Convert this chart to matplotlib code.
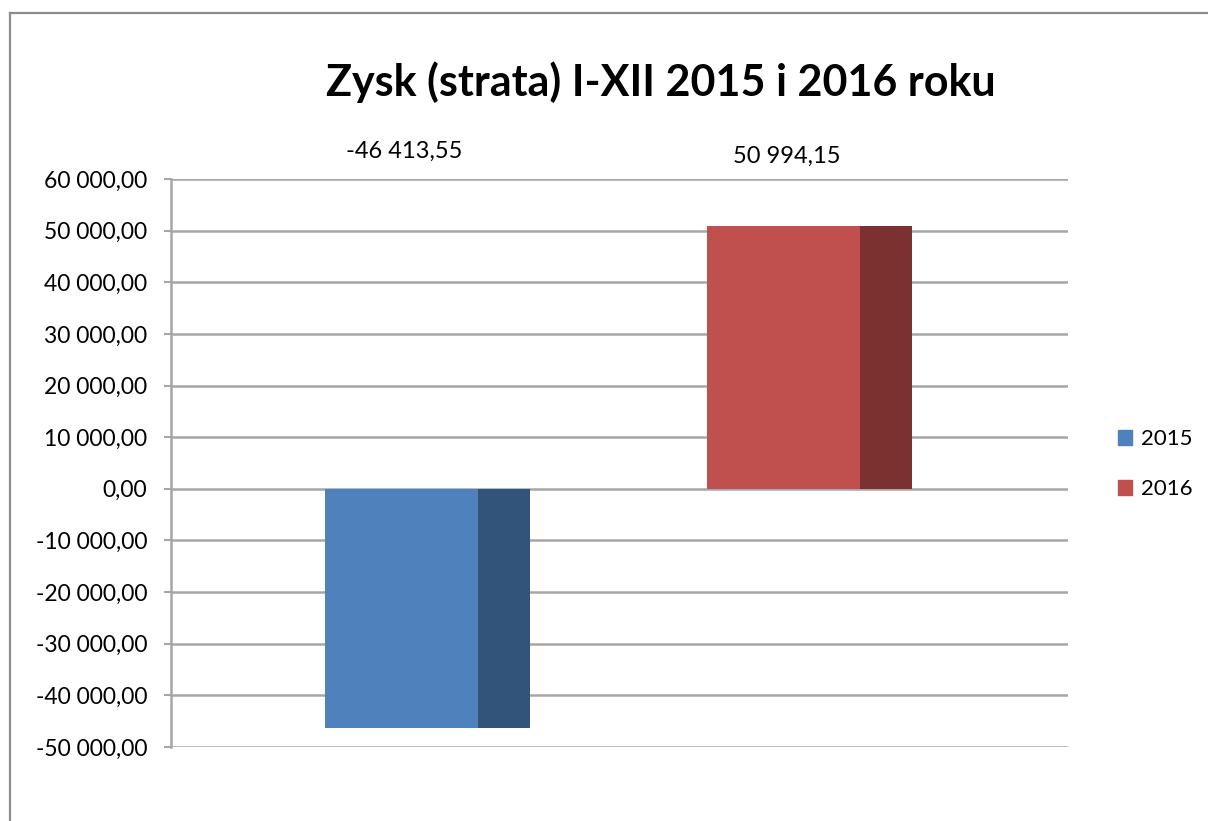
import matplotlib
matplotlib.use("Agg")
import matplotlib.pyplot as plt
from matplotlib.lines import Line2D
from matplotlib.patches import Patch

years = ["2015", "2016"]
values = [-46413.55, 50994.15]
label_texts = ["-46 413,55", "50 994,15"]
front_colors = ["#4F81BD", "#C0504D"]
side_colors = ["#32537A", "#7C3131"]
yticks = list(range(-50000, 60001, 10000))
title = "Zysk (strata) I-XII 2015 i 2016 roku"

plt.rcParams['font.family'] = ['Lato', 'DejaVu Sans']

fig = plt.figure(figsize=(12.08, 8.21), dpi=100)
ax = fig.add_axes([171/1208, 1-747/821, (1068-171)/1208, (747-179)/821])

positions = [0, 1]
front_w = 0.40
side_w = 0.136
for i, (p, v) in enumerate(zip(positions, values)):
    ax.bar(p - 0.268, v, width=front_w, align='edge', color=front_colors[i], zorder=3, linewidth=0)
    ax.bar(p + 0.132, v, width=side_w, align='edge', color=side_colors[i], zorder=3, linewidth=0)

ax.set_xlim(-0.671, 1.677)
ax.set_ylim(-50000, 60000)
ax.set_yticks(yticks)

def fmt(v):
    s = f"{abs(v):,.2f}".replace(",", " ").replace(".", ",")
    return ("-" if v < 0 else "") + s

ax.set_yticklabels([fmt(v) for v in yticks], fontsize=16.5)
ax.yaxis.grid(True, color="#A6A6A6", linewidth=1.8, zorder=0)
ax.set_axisbelow(True)
ax.set_xticks([])
for s in ["top", "right", "bottom"]:
    ax.spines[s].set_visible(False)
ax.spines["left"].set_color("#A6A6A6")
ax.spines["left"].set_linewidth(1.8)
ax.tick_params(axis='y', length=5, width=1.5, color="#A6A6A6", pad=12)

# data labels
label_y = [65300, 64300]
for p, t, ly in zip(positions, label_texts, label_y):
    ax.text(p - 0.06, ly, t, ha='center', va='center', fontsize=17, clip_on=False)

fig.text(661/1208, 1-82/821, title, ha='center', va='center', fontsize=31, fontweight='bold')

handles = [Patch(color=c) for c in front_colors]
fig.legend(handles, years, loc='center left', bbox_to_anchor=(1118/1208, 1-464/821),
           frameon=False, fontsize=16, handlelength=0.65, handleheight=0.65,
           handletextpad=0.4, labelspacing=1.35, borderpad=0, borderaxespad=0)

# outer chart border (left and top)
fig.add_artist(Line2D([10/1208, 10/1208], [0, 1-13/821], transform=fig.transFigure, color="#8C8C8C", linewidth=1.6))
fig.add_artist(Line2D([10/1208, 1], [1-13/821, 1-13/821], transform=fig.transFigure, color="#8C8C8C", linewidth=1.6))

fig.savefig("out.png", dpi=100)
